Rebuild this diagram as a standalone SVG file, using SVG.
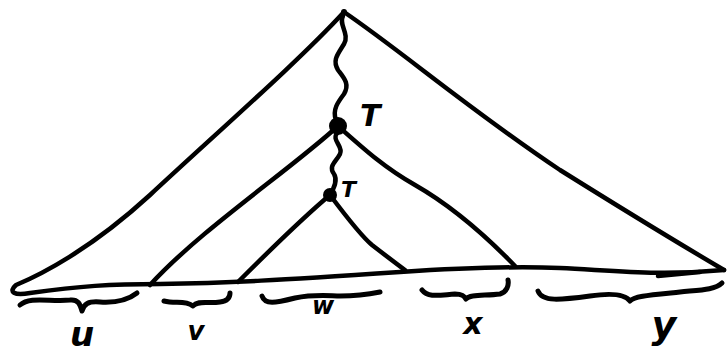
<svg xmlns="http://www.w3.org/2000/svg" width="728" height="356" viewBox="0 0 728 356">
<style>
.s{fill:none;stroke:#000;stroke-width:4.5;stroke-linecap:round;stroke-linejoin:round}
.b{fill:none;stroke:#000;stroke-width:5;stroke-linecap:round;stroke-linejoin:round}
.t{font-family:"DejaVu Sans",sans-serif;font-style:italic;font-weight:bold;fill:#000}
</style>
<rect width="728" height="356" fill="#fff"/>
<g id="connectors">
<path class="s" d="M344 12 C300 60 220 130 150 195 C90 250 40 275 16 285 C8 292 14 296 30 293 C80 286 110 284 160 284 C230 283 280 280 400 272 C460 268 510 266 560 268 C620 271 660 276 724 270"/>
<path class="s" d="M344 12 C400 50 470 110 560 170 C640 220 690 250 724 270"/>
<path class="s" d="M658 276 L700 272"/>
<path class="s" d="M343 16 C338 24 350 34 344 44 C338 54 332 60 338 70 C344 78 350 84 344 94 C338 102 332 110 336 120"/>
<path class="s" d="M338 126 C290 170 200 230 150 285"/>
<path class="s" d="M338 126 C365 150 385 168 415 185 C450 205 485 235 515 266"/>
<path class="s" d="M338 132 C330 140 344 146 340 154 C336 162 328 166 334 174 C338 180 334 188 330 195"/>
<path class="s" d="M330 195 C300 220 270 250 238 282"/>
<path class="s" d="M330 195 C345 215 360 235 372 245 C385 255 398 265 405 270"/>
</g>
<g id="node-root"><circle cx="344" cy="12" r="3" fill="#000"/></g>
<g id="node-T1"><circle cx="338" cy="126" r="9" fill="#000"/><text class="t" x="360" y="126" font-size="30">T</text></g>
<g id="node-T2"><circle cx="330" cy="195" r="7" fill="#000"/><text class="t" x="341" y="197" font-size="22">T</text></g>
<g id="braces">
<path class="b" d="M20 305 C30 296 50 302 70 300 C78 299 80 304 82 311 C84 304 88 301 100 302 C115 303 128 300 137 293"/>
<path class="b" d="M164 301 C175 304 185 300 193 306 C198 300 208 304 220 302 C228 301 230 297 230 293"/>
<path class="b" d="M262 296 C265 305 275 303 295 298 C315 294 330 296 340 296 C355 296 370 294 380 292"/>
<path class="b" d="M422 290 C428 298 440 295 455 294 C462 294 464 296 466 299 C470 294 485 296 500 294 C507 292 509 285 508 280"/>
<path class="b" d="M538 291 C542 302 560 300 590 296 C610 293 625 294 630 301 C634 296 650 295 680 292 C700 290 715 290 722 283"/>
</g>
<g id="labels">
<text class="t" x="82" y="346" font-size="34" text-anchor="middle">u</text>
<text class="t" x="196" y="340" font-size="26" text-anchor="middle">v</text>
<text class="t" x="323" y="314" font-size="24" text-anchor="middle">w</text>
<text class="t" x="473" y="334" font-size="30" text-anchor="middle">x</text>
<text class="t" x="664" y="338" font-size="38" text-anchor="middle">y</text>
</g>
</svg>
